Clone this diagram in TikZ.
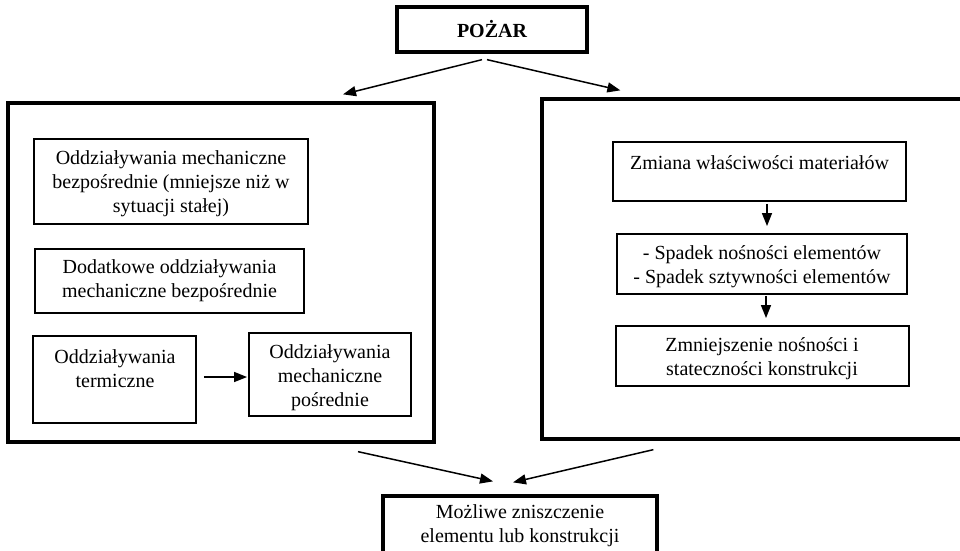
\documentclass[tikz,border=0pt]{standalone}
\usepackage{fontspec}
\setmainfont{Liberation Serif}
\usetikzlibrary{arrows.meta,calc}
\begin{document}
\begin{tikzpicture}[x=1pt,y=-1pt,
  bigbox/.style={draw, line width=3.3pt, inner sep=0pt},
  smallbox/.style={draw, line width=1.9pt, inner sep=0pt},
  txt/.style={align=center, inner sep=0pt, font=\fontsize{20}{24}\selectfont},
  arr/.style={line width=1.5pt, -{Triangle[length=13pt,width=10pt]}}]
\useasboundingbox (0,0) rectangle (960,550);
\clip (0,0) rectangle (960,550);
% top
\node[bigbox, txt, minimum width=190pt, minimum height=45pt, font=\fontsize{20}{24}\selectfont\bfseries] (pozar) at (492,29.5) {POŻAR};
% big boxes
\node[bigbox, minimum width=426pt, minimum height=339pt] (lbig) at (221,272.5) {};
\node[bigbox, minimum width=448pt, minimum height=340pt] (rbig) at (766,269) {};
% left inner boxes
\node[smallbox, minimum width=274pt, minimum height=85pt] (box1) at (171,181.5) {};
\node[txt] (box1t) at (171,184) {Oddziaływania mechaniczne\\bezpośrednie (mniejsze niż w\\sytuacji stałej)};
\node[smallbox, txt, minimum width=269pt, minimum height=64pt] (box2) at (169.5,281) {Dodatkowe oddziaływania\\mechaniczne bezpośrednie};
\node[smallbox, minimum width=163pt, minimum height=87pt] (term) at (114.5,379.5) {};
\node[txt] (termt) at (115,369) {Oddziaływania\\termiczne};
\node[smallbox, minimum width=162pt, minimum height=83pt] (posr) at (330,374.5) {};
\node[txt] (posrt) at (330,378) {Oddziaływania\\mechaniczne\\pośrednie};
\coordinate (arow) at (0,377);
\draw[arr, shorten <=7pt, shorten >=1pt] (term.east |- arow) -- (posr.west |- arow);
% right inner boxes
\node[smallbox, minimum width=293pt, minimum height=59pt] (matA) at (759.5,171.5) {};
\node[txt] (matAt) at (759.5,163) {Zmiana właściwości materiałów};
\node[smallbox, minimum width=290pt, minimum height=60pt] (lossB) at (762,264) {};
\node[txt] (lossBt) at (762,267) {- Spadek nośności elementów\\- Spadek sztywności elementów};
\node[smallbox, minimum width=293pt, minimum height=60pt] (redC) at (762.5,356) {};
\node[txt] (redCt) at (762,359) {Zmniejszenie nośności i\\stateczności konstrukcji};
\coordinate (colA) at (767,0);
\coordinate (colB) at (766,0);
\draw[arr, shorten <=2pt, shorten >=7pt] (matA.south -| colA) -- (lossB.north -| colA);
\draw[arr, shorten <=1pt, shorten >=7pt] (lossB.south -| colB) -- (redC.north -| colB);
% bottom box
\node[bigbox, minimum width=274pt, minimum height=64pt] (bot) at (520,528) {};
\node[txt] (bott) at (520,525.5) {Możliwe zniszczenie\\elementu lub konstrukcji};
% main arrows
\draw[arr] ($(pozar.south)+(-10,6)$) -- ($(lbig.north)+(122,-7)$);
\draw[arr] ($(pozar.south)+(-5,6)$) -- ($(rbig.north west)+(80,-7)$);
\draw[arr] ($(lbig.south)+(137,8)$) -- ($(bot.north)+(-27,-13)$);
\draw[arr] ($(rbig.south west)+(113,9)$) -- ($(bot.north)+(-7,-12)$);
\end{tikzpicture}
\end{document}
